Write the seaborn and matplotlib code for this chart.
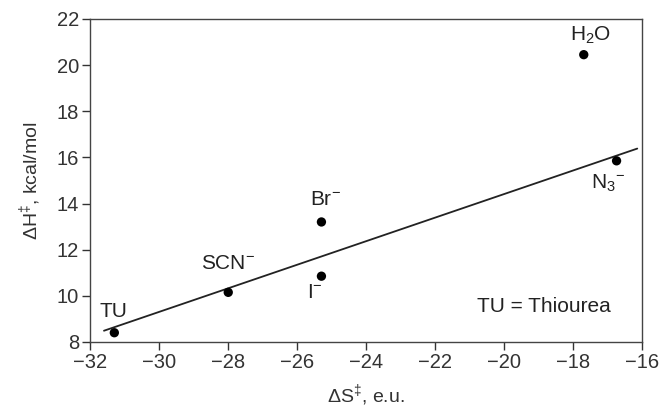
import numpy as np
import pandas as pd
import seaborn as sns
import matplotlib.pyplot as plt

# activation parameters
ligands = ["TU", "SCN$^{-}$", "Br$^{-}$", "I$^{-}$", "H$_2$O", "N$_3$$^{-}$"]
dS = [-31.3, -28.0, -25.3, -25.3, -17.7, -16.75]
dH = [8.4, 10.15, 13.2, 10.85, 20.45, 15.85]
on_line = [True, True, True, True, False, True]
line_span = [-31.6, -16.15]

df = pd.DataFrame({"ligand": ligands, "dS": dS, "dH": dH, "fit": on_line})

sns.set_style("ticks")
plt.rcParams["font.family"] = ["Liberation Sans", "DejaVu Sans"]
plt.rcParams["mathtext.fontset"] = "custom"
plt.rcParams["mathtext.rm"] = "Liberation Sans"
plt.rcParams["mathtext.it"] = "Liberation Sans"

fig = plt.figure(figsize=(6.63, 4.11), dpi=100)
ax = fig.add_axes([0.136, 0.168, 0.833, 0.786])

sns.scatterplot(data=df, x="dS", y="dH", color="black", s=45, edgecolor="none", ax=ax, zorder=3)

# least squares line without water
fit = df[df["fit"]]
slope, icpt = np.polyfit(fit["dS"], fit["dH"], 1)
xs = np.array(line_span)
ax.plot(xs, slope * xs + icpt, color="#222222", lw=1.3)

# label offsets in points
offsets = {"TU": (-1, 15), "SCN$^{-}$": (0, 21), "Br$^{-}$": (3, 16),
           "I$^{-}$": (-5, -12), "H$_2$O": (5, 14), "N$_3$$^{-}$": (-6, -16)}
for _, r in df.iterrows():
    ax.annotate(r["ligand"], (r["dS"], r["dH"]), xytext=offsets[r["ligand"]],
                textcoords="offset points", ha="center", va="center", fontsize=15, color="#222222")

ax.text(0.942, 0.11, "TU = Thiourea", transform=ax.transAxes, ha="right", va="center",
        fontsize=15, color="#222222")

ax.set_xlim(-32, -16)
ax.set_ylim(8, 22)
ax.set_xticks(range(-32, -15, 2))
ax.set_yticks(range(8, 23, 2))
ax.set_xticklabels(["\u2212" + str(abs(v)) for v in range(-32, -15, 2)])
ax.set_xlabel("\u0394S$^{\u2021}$, e.u.", fontsize=14, color="#333333", labelpad=7)
ax.set_ylabel("\u0394H$^{\u2021}$, kcal/mol", fontsize=14, color="#333333", labelpad=10)
ax.tick_params(direction="out", length=6, width=1, labelsize=14.5, colors="#333333", pad=2)
for sp in ax.spines.values():
    sp.set_visible(True)
    sp.set_color("#444444")
    sp.set_linewidth(1)

fig.savefig("out.png", dpi=100)
